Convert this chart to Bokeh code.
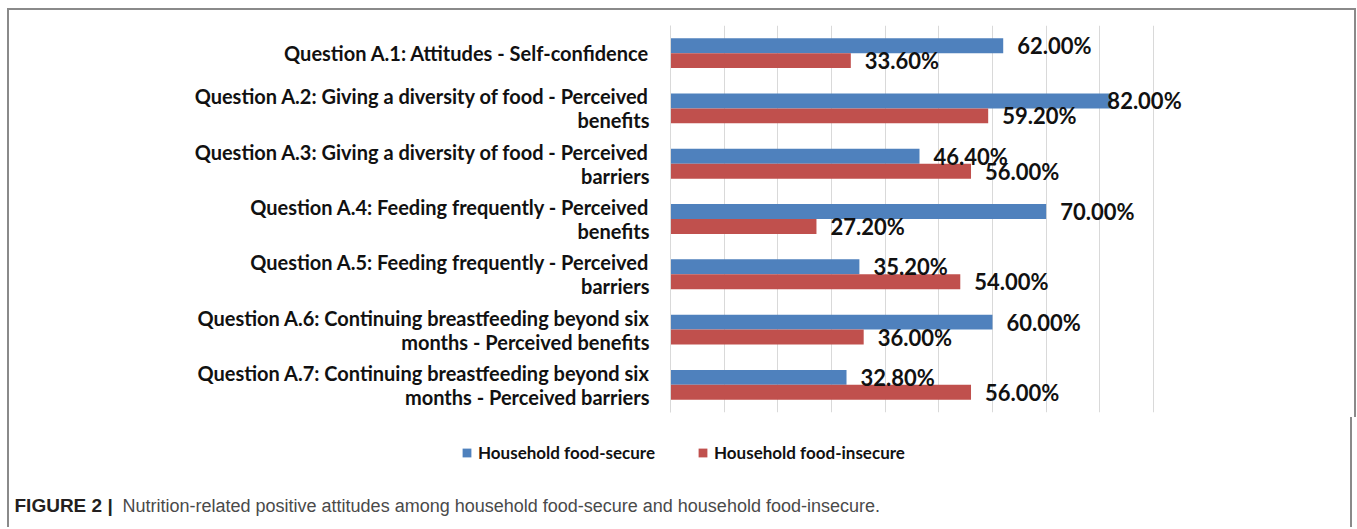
import numpy as np
from bokeh.plotting import figure
from bokeh.models import (ColumnDataSource, FactorRange, Range1d, Grid, FixedTicker,
                          Legend, LegendItem, Label)
from bokeh.transform import dodge
from bokeh.core.properties import value
from bokeh.embed import file_html
from bokeh.resources import INLINE

# ---- data ----
categories = [
    "Question A.1: Attitudes - Self-confidence",
    "Question A.2: Giving a diversity of food - Perceived\nbenefits",
    "Question A.3: Giving a diversity of food - Perceived\nbarriers",
    "Question A.4: Feeding frequently - Perceived\nbenefits",
    "Question A.5: Feeding frequently - Perceived\nbarriers",
    "Question A.6: Continuing breastfeeding beyond six\nmonths - Perceived benefits",
    "Question A.7: Continuing breastfeeding beyond six\nmonths - Perceived barriers",
]
food_secure = [62.0, 82.0, 46.4, 70.0, 35.2, 60.0, 32.8]
food_insecure = [33.6, 59.2, 56.0, 27.2, 54.0, 36.0, 56.0]
series_names = ["Household food-secure", "Household food-insecure"]
grid_ticks = [0, 10, 20, 30, 40, 50, 60, 70, 80, 90]
caption_bold = "FIGURE 2 |"
caption_text = "Nutrition-related positive attitudes among household food-secure and household food-insecure."

BLUE = "#4F81BD"
RED = "#C0504D"
X_MAX = 96.9
LABEL_CLAMP = 78.8  # data labels pushed back inside the plot area (as in the source)
BORDER = "2px solid #8a8a8a"

src = ColumnDataSource(dict(
    cat=categories,
    sec=food_secure,
    insec=food_insecure,
    sec_lab=[f"{v:.2f}%" for v in food_secure],
    insec_lab=[f"{v:.2f}%" for v in food_insecure],
    sec_lx=list(np.minimum(food_secure, LABEL_CLAMP)),
    insec_lx=list(np.minimum(food_insecure, LABEL_CLAMP)),
))

W = 1345
p = figure(
    width=W, height=407,
    y_range=FactorRange(factors=categories[::-1], range_padding=0),
    x_range=Range1d(0, X_MAX),
    x_axis_location=None,
    output_backend="svg", toolbar_location=None,
    min_border_left=661, min_border_right=164, min_border_top=15, min_border_bottom=5,
    frame_width=520, frame_height=387,
)
p.styles = {"border-top": BORDER, "border-left": BORDER, "border-right": BORDER,
            "margin-left": "7px", "margin-top": "8px", "background": "white"}
p.outline_line_color = None
p.background_fill_color = "white"
p.border_fill_color = "white"
p.grid.grid_line_color = None
p.add_layout(Grid(dimension=0, ticker=FixedTicker(ticks=grid_ticks),
                  grid_line_color="#d9d9d9", grid_line_width=1))

p.hbar(y=dodge("cat", 0.135, range=p.y_range), right="sec", left=0, height=0.27,
       source=src, fill_color=BLUE, line_color=None)
p.hbar(y=dodge("cat", -0.135, range=p.y_range), right="insec", left=0, height=0.27,
       source=src, fill_color=RED, line_color=None)

lab_font = value("Lato")
p.text(x="sec_lx", y=dodge("cat", 0.135, range=p.y_range), text="sec_lab", source=src,
       x_offset=14, text_align="left", text_baseline="middle",
       text_font=lab_font, text_font_style="bold", text_font_size="22px", text_color="#111111")
p.text(x="insec_lx", y=dodge("cat", -0.135, range=p.y_range), text="insec_lab", source=src,
       x_offset=14, text_align="left", text_baseline="middle",
       text_font=lab_font, text_font_style="bold", text_font_size="22px", text_color="#111111")

ax = p.yaxis[0]
ax.axis_line_color = "#d9d9d9"
ax.major_tick_line_color = None
ax.minor_tick_line_color = None
ax.major_label_standoff = 15
ax.major_label_text_font = "Lato"
ax.major_label_text_font_style = "bold"
ax.major_label_text_font_size = "20px"
ax.major_label_text_color = "#111111"
ax.major_label_text_line_height = 1.0
ax.major_label_text_align = "center"

# legend + caption strip (separate root, so its frame is not aligned to the chart's)
CH = 110
c = figure(width=W, height=CH, x_range=Range1d(0, W), y_range=Range1d(0, CH),
           x_axis_location=None, y_axis_location=None, output_backend="svg",
           toolbar_location=None, min_border=0)
c.styles = {"border-left": BORDER, "border-right": BORDER,
            "margin-left": "7px", "background": "white"}
c.outline_line_color = None
c.grid.grid_line_color = None
c.background_fill_color = "white"
c.border_fill_color = "white"

# legend proxies: same series, zero-height (invisible) bars, only used for the legend swatches
k1 = c.hbar(y=0, right="sec", left=0, height=0, source=src, fill_color=BLUE, line_color=None)
k2 = c.hbar(y=0, right="insec", left=0, height=0, source=src, fill_color=RED, line_color=None)

legend = Legend(items=[LegendItem(label=series_names[0], renderers=[k1]),
                       LegendItem(label=series_names[1], renderers=[k2])],
                location=(452, 64), orientation="horizontal",
                glyph_width=11, glyph_height=11, label_standoff=6, spacing=42,
                padding=0, margin=0, border_line_color=None, background_fill_alpha=0,
                label_text_font="Lato", label_text_font_style="bold",
                label_text_font_size="17px", label_text_color="#111111")
c.add_layout(legend, "center")

c.add_layout(Label(x=5, y=12, text=caption_bold,
                   text_font="Liberation Sans", text_font_style="bold",
                   text_font_size="19px", text_color="#231f20"))
c.add_layout(Label(x=113, y=12, text=caption_text,
                   text_font="Liberation Sans", text_font_size="18px",
                   text_color="#4a4a4a"))

open("out.html", "w").write(file_html([p, c], INLINE))
